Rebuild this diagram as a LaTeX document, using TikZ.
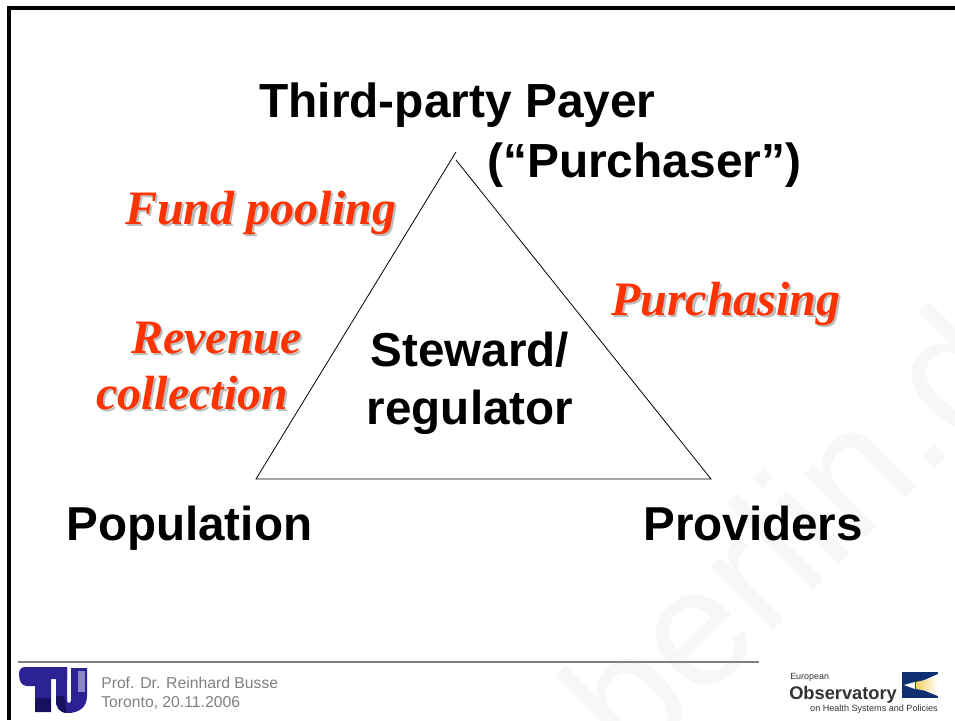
\documentclass[tikz,border=0pt]{standalone}
\usepackage{fontspec}
\setmainfont{Liberation Serif}
\setsansfont{Liberation Sans}
\usetikzlibrary{positioning}
\definecolor{fundred}{HTML}{FF3300}
\definecolor{shadowgray}{HTML}{BEBEBE}
\definecolor{tublue}{HTML}{2C2296}
\definecolor{tudark}{HTML}{17115F}
\definecolor{tupale}{HTML}{8C88C8}
\definecolor{obsblue}{HTML}{0F2F73}
\definecolor{obsyellow}{HTML}{F4CE62}
\tikzset{
	title/.style={inner sep=0pt,anchor=base west,font=\sffamily\bfseries\fontsize{35.9}{43.5}\selectfont},
	corner/.style={title,font=\sffamily\bfseries\fontsize{35.7}{43.5}\selectfont},
	middle/.style={inner sep=0pt,align=center,font=\sffamily\bfseries\fontsize{35.7}{43.5}\selectfont},
	func/.style={inner sep=0pt,anchor=base west,font=\rmfamily\bfseries\itshape\fontsize{36}{43.5}\selectfont,text=fundred},
	funcshadow/.style={func,text=shadowgray,xshift=1.6pt,yshift=-1.6pt},
	side/.style={black,line width=0.6pt},
	footer/.style={inner sep=0pt,anchor=base west,font=\sffamily\fontsize{11.8}{14}\selectfont,text=gray},
	obs/.style={inner sep=0pt,font=\sffamily,text=black!80}
}

\begin{document}
\begin{tikzpicture}[x=0.75pt,y=-0.75pt]
	\clip (0,0) rectangle (955,720);
	\fill[white] (0,0) rectangle (955,720);
	\node[inner sep=0pt,anchor=base west,rotate=45,font=\sffamily\fontsize{126}{130}\selectfont,text=black!3] (mark) at (633.5,770.5) {berlin.de};
	% slide frame
	\draw[black,line width=2.4pt] (9,720) -- (9,8) -- (955,8);

	\node[title] (payer) at (259,118) {Third-party Payer};
	\node[title] (purch) at (487,178) {(“Purchaser”)};
	\node[corner] (pop) at (66,540) {Population};
	\node[corner] (prov) at (643,540) {Providers};
	\node[middle] (steward) at (470,383) {Steward/\\regulator};

	\coordinate (apexl) at (456,152);
	\coordinate (apexr) at (456,160);
	\coordinate (popc) at (256,479);
	\coordinate (provc) at (711,479);
	\draw[side] (apexl) -- (popc) -- (provc) -- (apexr);

	\node[funcshadow] (funds) at (125,224) {Fund pooling};
	\node[func] (fund) at (125,224) {Fund pooling};
	\node[funcshadow] (revs) at (131,353) {Revenue};
	\node[func] (rev) at (131,353) {Revenue};
	\node[funcshadow] (colls) at (96,409) {collection};
	\node[func] (coll) at (96,409) {collection};
	\node[funcshadow] (purs) at (611,315) {Purchasing};
	\node[func] (pur) at (611,315) {Purchasing};

	% footer
	\coordinate (rulea) at (18,662);
	\coordinate (ruleb) at (759,662);
	\draw[gray,line width=1.2pt] (rulea) -- (ruleb);
	\node[footer] (prof) at (101,688) {Prof. Dr. Reinhard Busse};
	\node[footer] (town) at (101,707) {Toronto, 20.11.2006};

	% TU logo
	\fill[tublue] (19,674) .. controls (19,670) and (21,667) .. (25,667) -- (67,667) -- (67,679) -- (51,679) -- (51,712) -- (35,712) -- (35,686) -- (27,686) .. controls (21,686) and (19,680) .. (19,674) -- cycle;
	\fill[tublue] (56,667) -- (67,667) -- (67,700) .. controls (67,704) and (71,704) .. (71,700) -- (71,668) -- (87,668) -- (87,696) .. controls (87,708) and (78,713) .. (68,713) .. controls (60,713) and (56,708) .. (56,700) -- cycle;
	\fill[tudark] (35,698) -- (51,698) -- (51,712) -- (35,712) -- cycle;
	\fill[tudark] (56,696) -- (64,696) -- (67,713) .. controls (60,713) and (56,708) .. (56,700) -- cycle;
	\fill[tupale] (78,671) rectangle (85,692);

	% observatory logo
	\node[obs,anchor=base west,font=\sffamily\fontsize{6.7}{8}\selectfont] (euro) at (790,679) {European};
	\node[obs,anchor=base west,font=\sffamily\bfseries\fontsize{13.7}{16}\selectfont] (obsv) at (789,699) {Observatory};
	\node[obs,anchor=base east,font=\sffamily\fontsize{6.8}{8}\selectfont] (health) at (938,711) {on Health Systems and Policies};
	\fill[obsblue] (902,672) rectangle (938,698);
	\fill[white] (916,684) -- (938,674) -- (938,696) -- (916,687) -- cycle;
	\shade[left color=obsyellow,right color=white] (916,682) -- (938,677) -- (938,693) -- (916,689) -- cycle;
	\fill[white] (904,685) -- (915,682) -- (915,689) -- cycle;
\end{tikzpicture}
\end{document}
